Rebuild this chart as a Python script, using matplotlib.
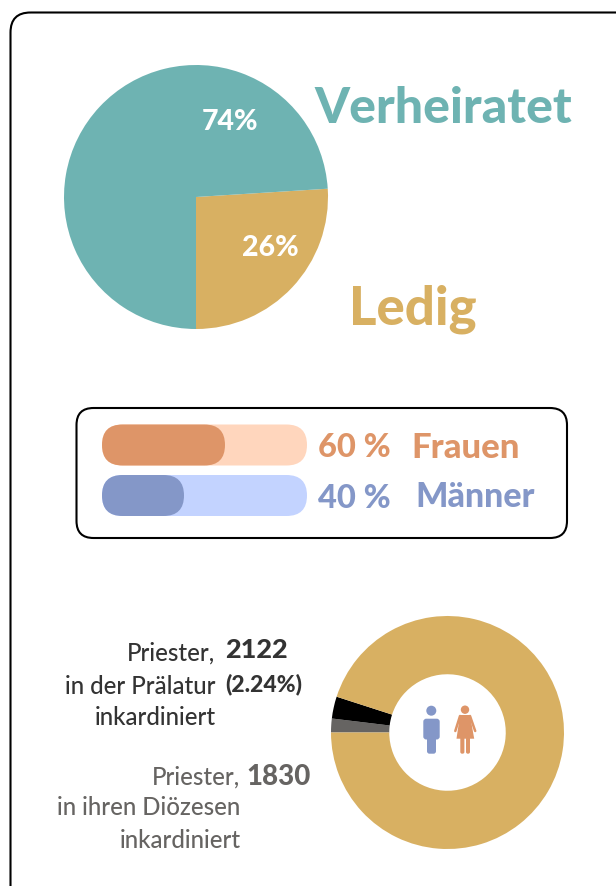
import matplotlib.pyplot as plt
from matplotlib.patches import Circle, FancyBboxPatch, Polygon

W, H = 616, 886

# marital status pie
marital_labels = ['Ledig', 'Verheiratet']
marital_values = [26, 74]
marital_colors = ['#D8B062', '#6EB3B2']

# gender bars
gender_labels = ['Frauen', 'Männer']
gender_values = [60, 40]
gender_colors = ['#DE9568', '#8497C8']
gender_tracks = ['#FFD6BD', '#C3D3FF']

# priests donut, share of the ring in percent as drawn
priest_values = [1.92, 3.05, 95.03]
priest_colors = ['#666462', '#000000', '#D8B062']

FONT = 'Lato'
DARK = '#333333'
GRAY = '#666462'

plt.rcParams['font.family'] = [FONT, 'DejaVu Sans']

fig = plt.figure(figsize=(W / 100, H / 100), dpi=100)


def px_axes(x0, y0, x1, y1):
    return fig.add_axes([x0 / W, 1 - y1 / H, (x1 - x0) / W, (y1 - y0) / H])


ax1 = px_axes(64, 65, 328, 329)
ax1.pie(marital_values, colors=marital_colors, startangle=-90, radius=1)
ax1.set_xlim(-1, 1)
ax1.set_ylim(-1, 1)

ax2 = px_axes(331, 616, 564, 849)
ax2.pie(priest_values, colors=priest_colors, startangle=180, counterclock=False,
        radius=1, wedgeprops={'width': 0.5})
ax2.set_xlim(-1, 1)
ax2.set_ylim(-1, 1)

# overlay in pixel coordinates for frames, bars, icons and text
ax = fig.add_axes([0, 0, 1, 1], zorder=5)
ax.set_xlim(0, W)
ax.set_ylim(H, 0)
ax.axis('off')
ax.patch.set_alpha(0)


def rbox(x0, y0, x1, y1, r, **kw):
    p = FancyBboxPatch((x0, y0), x1 - x0, y1 - y0,
                       boxstyle=f'round,pad=0,rounding_size={r}', **kw)
    ax.add_patch(p)


def txt(x, y, s, size, color, weight='bold', ha='left'):
    ax.text(x, y, s, fontsize=size, color=color, fontweight=weight, ha=ha, va='baseline')


# frames
rbox(10.5, 12.5, 660, 940, 20, fc='none', ec='black', lw=1.5)
rbox(76.5, 408, 567, 538, 17, fc='none', ec='black', lw=1.5)

# gender bars
track_x, track_w = 102, 205
bar_tops = [424.5, 475]
bar_h = 41
for v, c, t, y in zip(gender_values, gender_colors, gender_tracks, bar_tops):
    rbox(track_x, y, track_x + track_w, y + bar_h, 20.5, fc=t, ec='none')
    rbox(track_x, y, track_x + track_w * v / 100, y + bar_h, 20.5, fc=c, ec='none')

# pie labels
txt(314, 123, marital_labels[1], 36, marital_colors[1], 'black')
txt(349, 324, marital_labels[0], 38, marital_colors[0], 'black')
txt(230, 130, f'{marital_values[1]}%', 20.5, 'white', 'black', ha='center')
txt(270, 256, f'{marital_values[0]}%', 20.5, 'white', 'black', ha='center')

# bar labels
txt(318, 457, f'{gender_values[0]} %', 23.5, gender_colors[0], 'black')
txt(318, 508, f'{gender_values[1]} %', 23.5, gender_colors[1], 'black')
txt(411, 458, gender_labels[0], 25, gender_colors[0], 'black')
txt(415, 507, gender_labels[1], 24.5, gender_colors[1], 'black')

# donut captions
for y, s in zip([661, 694, 725], ['Priester,', 'in der Prälatur', 'inkardiniert']):
    txt(215.5, y, s, 17.3, DARK, 'medium', ha='right')
txt(225, 658, '2122', 19.5, DARK, 'black')
txt(225, 691, '(2.24%)', 16.5, DARK, 'black')

for y, s in zip([785, 815, 848], ['Priester,', 'in ihren Diözesen', 'inkardiniert']):
    txt(240.5, y, s, 17.3, GRAY, 'medium', ha='right')
txt(246, 785, '1830', 20, GRAY, 'black')

# man icon
ax.add_patch(Circle((431.3, 710.7), 5, fc=gender_colors[1], ec='none'))
rbox(423.3, 718.7, 439.7, 739.5, 3, fc=gender_colors[1], ec='none')
rbox(427, 730, 436, 753.7, 2.5, fc=gender_colors[1], ec='none')

# woman icon
c = gender_colors[0]
ax.add_patch(Circle((465, 709.7), 4.2, fc=c, ec='none'))
ax.add_patch(Polygon([(460, 715), (470, 715), (474.2, 738.7), (456.5, 738.7)], fc=c, ec='none'))
ax.plot([460, 455.3], [716, 731], color=c, lw=1.8, solid_capstyle='round')
ax.plot([470, 475.2], [716, 731], color=c, lw=1.8, solid_capstyle='round')
rbox(460.3, 736, 464.4, 753.7, 1.8, fc=c, ec='none')
rbox(466, 736, 470, 753.7, 1.8, fc=c, ec='none')

fig.savefig('out.png', dpi=100)
